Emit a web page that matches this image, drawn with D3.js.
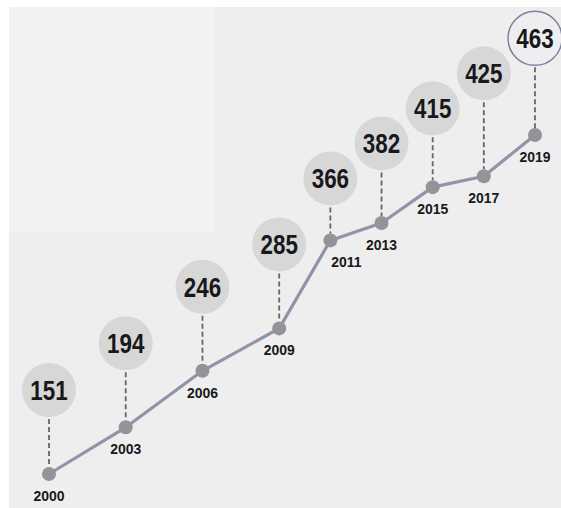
<!DOCTYPE html>
<html>
<head>
<meta charset="utf-8">
<script src="https://cdn.jsdelivr.net/npm/d3@7/dist/d3.min.js"></script>
<style>
  html, body { margin: 0; padding: 0; background: #ffffff; }
  svg { display: block; }
</style>
</head>
<body>
<svg id="chart" width="561" height="508"></svg>
<script>
// ---- data ----
const years  = [2000, 2003, 2006, 2009, 2011, 2013, 2015, 2017, 2019];
const values = [151, 194, 246, 285, 366, 382, 415, 425, 463];
const highlightYear = 2019;

const W = 561, H = 508;
const svg = d3.select("#chart");

// paper background
svg.append("rect").attr("x", 0).attr("y", 0).attr("width", W).attr("height", H).attr("fill", "#ffffff");
svg.append("rect").attr("x", 9).attr("y", 7).attr("width", W - 9).attr("height", H - 7).attr("fill", "#eeeeee");
svg.append("rect").attr("x", 9).attr("y", 7).attr("width", 206).attr("height", 225).attr("fill", "#f2f2f2");

const data = years.map((y, i) => ({ year: y, value: values[i] }));

const x = d3.scaleLinear().domain([2000, 2019]).range([49, 535]);
const y = d3.scaleLinear().domain([151, 463]).range([474, 135]);

const R = 27;          // label bubble radius
const OFFSET = 84;     // preferred bubble centre above point

// bubble layout: fixed x, vertical relaxation to avoid overlaps
const nodes = data.map(d => ({ d, fx: x(d.year), x: x(d.year), y: y(d.value) - OFFSET, ty: y(d.value) - OFFSET }));
const sim = d3.forceSimulation(nodes)
  .force("y", d3.forceY(n => n.ty).strength(0.08))
  .force("collide", d3.forceCollide(R + 4).iterations(4))
  .stop();
for (let i = 0; i < 400; i++) sim.tick();
nodes.forEach(n => { n.d.by = Math.max(R + 8, n.y); });

const g = svg.append("g");

// dashed connectors
g.selectAll("line.conn").data(data).join("line")
  .attr("class", "conn")
  .attr("x1", d => x(d.year)).attr("x2", d => x(d.year))
  .attr("y1", d => d.by + R + 2)
  .attr("y2", d => y(d.value) - 7)
  .attr("stroke", "#666666").attr("stroke-width", 1.8)
  .attr("stroke-dasharray", "5,3");

// line
g.append("path").datum(data)
  .attr("d", d3.line().x(d => x(d.year)).y(d => y(d.value)))
  .attr("fill", "none").attr("stroke", "#8f94a6").attr("stroke-width", 3.2)
  .attr("stroke-linejoin", "round");

// points
g.selectAll("circle.pt").data(data).join("circle")
  .attr("class", "pt")
  .attr("cx", d => x(d.year)).attr("cy", d => y(d.value)).attr("r", 7)
  .attr("fill", "#939499");

// bubbles
g.selectAll("circle.bub").data(data).join("circle")
  .attr("class", "bub")
  .attr("cx", d => x(d.year)).attr("cy", d => d.by).attr("r", R)
  .attr("fill", d => d.year === highlightYear ? "#eeeef1" : "#d7d7d7")
  .attr("stroke", d => d.year === highlightYear ? "#7a82a0" : "none")
  .attr("stroke-width", 1.5);

// value text (condensed)
g.selectAll("text.val").data(data).join("text")
  .attr("class", "val")
  .attr("transform", d => `translate(${x(d.year)},${d.by + 10}) scale(0.8,1)`)
  .attr("text-anchor", "middle")
  .attr("font-family", "'Liberation Sans', Arial, sans-serif")
  .attr("font-weight", "bold").attr("font-size", 28)
  .attr("fill", "#18181a")
  .text(d => d.value);

// year labels (shift right when incoming segment is steep)
g.selectAll("text.yr").data(data).join("text")
  .attr("class", "yr")
  .attr("transform", (d, i) => {
    let tx = x(d.year);
    if (i > 0) {
      const p = data[i - 1];
      const slope = (y(p.value) - y(d.value)) / (x(d.year) - x(p.year));
      if (slope > 1.5) tx += 16;
    }
    return `translate(${tx},${y(d.value) + 27}) scale(0.9,1)`;
  })
  .attr("text-anchor", "middle")
  .attr("font-family", "'Liberation Sans', Arial, sans-serif")
  .attr("font-weight", "bold").attr("font-size", 15.5)
  .attr("fill", "#18181a")
  .text(d => d.year);
</script>
</body>
</html>
